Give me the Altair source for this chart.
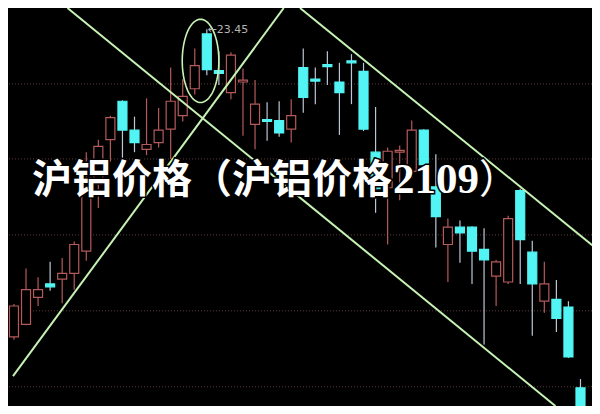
import altair as alt
import pandas as pd
import numpy as np

# ---- candle data (price units) ----
opens  = [20.25, 20.38, 20.66, 20.80, 20.85, 20.91, 21.14, 21.84, 22.30, 22.70,
          22.40, 22.20, 22.27, 22.41, 22.55, 22.83, 23.40, 23.02, 22.79, 22.90,
          22.46, 22.51, 22.50, 22.41, 23.05, 22.93, 23.08, 22.90, 23.12, 23.01,
          22.17, 21.80, 22.17, 21.97, 22.40, 21.81, 21.21, 21.39, 21.39, 21.16,
          20.88, 20.82, 21.77, 21.13, 20.62, 20.64, 20.56, 19.72]
closes = [20.57, 20.74, 20.74, 20.77, 20.91, 21.21, 21.90, 22.23, 22.53, 22.40,
          22.27, 22.25, 22.40, 22.70, 22.75, 23.07, 23.03, 22.99, 23.18, 22.92,
          22.67, 22.49, 22.37, 22.55, 22.74, 22.91, 23.06, 22.79, 23.10, 22.41,
          21.79, 22.18, 22.19, 22.40, 22.04, 21.50, 21.39, 21.33, 21.14, 21.05,
          21.03, 21.48, 21.26, 20.80, 20.80, 20.44, 20.04, 19.42]
highs  = [20.59, 20.96, 20.87, 21.03, 21.07, 21.24, 22.17, 22.30, 22.55, 22.71,
          22.54, 22.73, 22.63, 23.05, 22.93, 23.25, 23.45, 23.22, 23.21, 23.04,
          22.92, 22.69, 22.70, 22.72, 23.25, 23.05, 23.22, 23.10, 23.19, 23.10,
          22.64, 22.22, 22.24, 22.50, 22.41, 22.15, 21.48, 21.46, 21.40, 21.38,
          21.05, 21.51, 21.79, 21.25, 21.03, 20.84, 20.62, 19.81]
lows   = [20.22, 20.37, 20.57, 20.73, 20.60, 20.74, 21.04, 21.59, 22.07, 22.10,
          22.17, 22.14, 22.22, 22.10, 22.49, 22.77, 22.97, 22.87, 22.72, 22.34,
          22.20, 22.29, 22.33, 22.27, 22.58, 22.67, 22.87, 22.35, 22.67, 22.39,
          21.54, 21.21, 21.67, 21.90, 21.99, 21.18, 20.82, 21.02, 20.80, 20.17,
          20.57, 20.80, 20.80, 20.26, 20.50, 20.30, 20.03, 19.37]

grid_prices = [22.88, 22.10, 21.31, 20.52, 19.73]

# trend lines: (candle index, price) end points
line_ids = ["A", "A", "B", "B", "C", "C"]
line_x   = [4.44, 44.92, -0.08, 22.38, 23.73, 48.0]
line_p   = [23.67, 19.53, 19.84, 23.67, 23.67, 21.20]

# ellipse highlight around the peak
ell_cx, ell_cy, ell_rx, ell_ry = 15.48, 23.12, 1.52, 0.433

peak_label = "\u219023.45"
peak_x, peak_p = 16.05, 23.44

title_cjk = "沪铝价格（沪铝价格"
title_num = "2109"
title_end = "）"

X_DOMAIN = [-0.08, 47.54]
Y_DOMAIN = [19.53, 23.67]

W, H = 584, 398
RED = "#b45a5a"
CYAN = "#52f4f4"
CYAN_WICK = "#bcc6d6"
GREEN = "#c6f2b4"

df = pd.DataFrame({"i": list(range(len(opens))), "open": opens, "close": closes,
                   "high": highs, "low": lows})
df["top"] = df[["open", "close"]].max(axis=1)
df["bot"] = df[["open", "close"]].min(axis=1)
up = df["close"] >= df["open"]
df["fillc"] = np.where(up, "#000000", CYAN)
df["strokec"] = np.where(up, RED, CYAN)
df["wickc"] = np.where(up, RED, CYAN_WICK)

xs = alt.Scale(domain=X_DOMAIN, nice=False, zero=False)
ys = alt.Scale(domain=Y_DOMAIN, nice=False, zero=False)

grid = alt.Chart(pd.DataFrame({"p": grid_prices})).mark_rule(
    color="#5e3c3c", strokeWidth=1, strokeDash=[1, 2]
).encode(y=alt.Y("p:Q", scale=ys, axis=None))

wicks = alt.Chart(df).mark_rule(strokeWidth=1.2, clip=True).encode(
    x=alt.X("i:Q", scale=xs, axis=None),
    y=alt.Y("low:Q", scale=ys, axis=None),
    y2="high:Q",
    color=alt.Color("wickc:N", scale=None),
)

bodies = alt.Chart(df).mark_bar(size=9, strokeWidth=1.2, clip=True).encode(
    x=alt.X("i:Q", scale=xs, axis=None),
    y=alt.Y("bot:Q", scale=ys, axis=None),
    y2="top:Q",
    fill=alt.Fill("fillc:N", scale=None),
    stroke=alt.Stroke("strokec:N", scale=None),
)

lines_df = pd.DataFrame({"id": line_ids, "x": line_x, "p": line_p,
                         "o": [0, 1, 0, 1, 0, 1]})
trend = alt.Chart(lines_df).mark_line(color=GREEN, strokeWidth=2, clip=True).encode(
    x=alt.X("x:Q", scale=xs, axis=None),
    y=alt.Y("p:Q", scale=ys, axis=None),
    detail="id:N",
    order="o:Q",
)

ang = np.linspace(0, 2 * np.pi, 81)
ell_df = pd.DataFrame({"x": ell_cx + ell_rx * np.cos(ang),
                       "p": ell_cy + ell_ry * np.sin(ang),
                       "o": np.arange(len(ang))})
ellipse = alt.Chart(ell_df).mark_line(color=GREEN, strokeWidth=1.6, clip=True).encode(
    x=alt.X("x:Q", scale=xs, axis=None),
    y=alt.Y("p:Q", scale=ys, axis=None),
    order="o:Q",
)

label = alt.Chart(pd.DataFrame({"x": [peak_x], "p": [peak_p], "t": [peak_label]})).mark_text(
    align="left", baseline="middle", fontSize=11, font="DejaVu Sans", color="#b4b4b4"
).encode(
    x=alt.X("x:Q", scale=xs, axis=None),
    y=alt.Y("p:Q", scale=ys, axis=None),
    text="t:N",
)

def title_layer(txt, x, font, size, weight="bold"):
    base = alt.Chart(pd.DataFrame({"t": [txt]}))
    outline = base.mark_text(align="left", baseline="alphabetic", font=font,
                             fontSize=size, fontWeight=weight, color="#000000",
                             stroke="#000000", strokeWidth=3).encode(
        x=alt.value(x), y=alt.value(184.5), text="t:N")
    fill = base.mark_text(align="left", baseline="alphabetic", font=font,
                          fontSize=size, fontWeight=weight, color="#ffffff").encode(
        x=alt.value(x), y=alt.value(184.5), text="t:N")
    return outline + fill

t1 = title_layer(title_cjk, 24, "Noto Sans CJK SC", 40)
t2 = title_layer(title_num, 385, "Liberation Serif", 43)
t3 = title_layer(title_end, 471, "Noto Sans CJK SC", 40, weight="normal")

chart = alt.layer(grid, wicks, bodies, trend, ellipse, label, t1, t2, t3).properties(
    width=W, height=H, padding=0,
    autosize=alt.AutoSizeParams(type="none"),
    background="#000000",
).configure_view(stroke="#000000", fill="#000000")

chart.save("out.html", embed_options={"renderer": "svg", "actions": False})
